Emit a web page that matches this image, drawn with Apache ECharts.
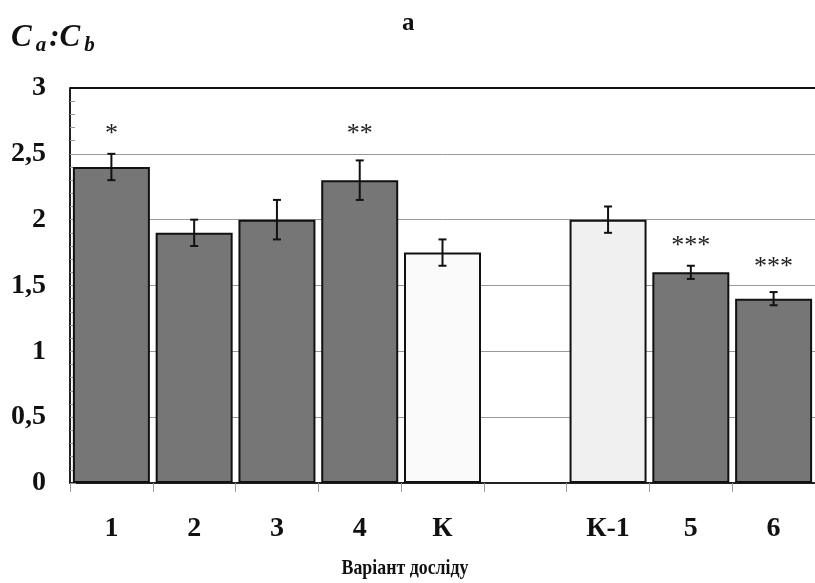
<!DOCTYPE html>
<html><head><meta charset="utf-8">
<script src="https://cdn.jsdelivr.net/npm/echarts@6/dist/echarts.min.js"></script>
<style>html,body{margin:0;padding:0;background:#fff}#c{width:815px;height:583px}</style>
</head><body><div id="c"></div>
<script>
const categories = ['1','2','3','4','К','','К-1','5','6'];
const values = [2.4, 1.9, 2.0, 2.3, 1.75, null, 2.0, 1.6, 1.4];
const errors = [0.1, 0.1, 0.15, 0.15, 0.1, null, 0.1, 0.05, 0.05];
const stars = ['*','','','**','','','','***','***'];
const starY = [2.65, null, null, 2.65, null, null, null, 1.80, 1.64];
const barKind = ['d','d','d','d','l','','l2','d','d'];
const yTicks = ['0','0,5','1','1,5','2','2,5','3'];

const FONT = 'Liberation Serif';
const colorOf = {d:'#767676', l:'#fafafa', l2:'#f0f0f0'};

const barData = values.map((v,i)=> v==null ? null : {value:v, itemStyle:{color:colorOf[barKind[i]]}});
const errData = values.map((v,i)=> v==null ? null : [i, v-errors[i], v+errors[i]]).filter(d=>d);
const starData = stars.map((s,i)=> s ? [i, starY[i], s] : null).filter(d=>d);

const chart = echarts.init(document.getElementById('c'));
chart.setOption({
  animation:false,
  backgroundColor:'#fff',
  title:{text:'а', left:397, top:6, textStyle:{fontFamily:FONT, fontWeight:'bold', fontSize:25, color:'#111'}},
  graphic:[{
    type:'text', left:11, top:22,
    style:{
      rich:{
        C:{fontFamily:FONT, fontStyle:'italic', fontWeight:'bold', fontSize:31, fill:'#111'},
        s:{fontFamily:FONT, fontStyle:'italic', fontWeight:'bold', fontSize:21, fill:'#111', verticalAlign:'bottom', padding:[16,3,0,4]}
      },
      text:'{C|C}{s|a}{C|:C}{s|b}'
    }
  },{
    type:'line', shape:{x1:70, y1:88, x2:815, y2:88}, style:{stroke:'#111', lineWidth:2}, z:10
  },{
    type:'text', x:405, y:569, scaleX:0.85,
    style:{text:'Варіант досліду', fontFamily:FONT, fontWeight:'bold', fontSize:21, fill:'#111', align:'center', verticalAlign:'middle'}
  }],
  grid:{left:70, top:88, width:750, height:395, containLabel:false},
  xAxis:{
    type:'category', data:categories, boundaryGap:true,
    axisLine:{lineStyle:{color:'#222', width:2}},
    axisTick:{show:true, length:9, lineStyle:{color:'#999'}},
    axisLabel:{fontFamily:FONT, fontWeight:'bold', fontSize:28, color:'#111', margin:32}
  },
  yAxis:{
    type:'value', min:0, max:3, interval:0.5,
    axisLine:{show:true, lineStyle:{color:'#222', width:2}},
    axisTick:{show:true, inside:true, length:6, lineStyle:{color:'#999'}},
    minorTick:{show:true, splitNumber:5, length:5, lineStyle:{color:'#999'}},
    splitLine:{show:true, lineStyle:{color:'#999', width:1}},
    axisLabel:{fontFamily:FONT, fontWeight:'bold', fontSize:28, color:'#111', margin:24,
      formatter:(v)=>yTicks[Math.round(v*2)]}
  },
  series:[{
    type:'bar', data:barData, barCategoryGap:'7%',
    itemStyle:{borderColor:'#111', borderWidth:2}
  },{
    type:'custom', data:errData, z:5,
    renderItem:(params, api)=>{
      const lo = api.coord([api.value(0), api.value(1)]);
      const hi = api.coord([api.value(0), api.value(2)]);
      const x = lo[0], w = 4;
      const st = {stroke:'#111', lineWidth:2};
      return {type:'group', children:[
        {type:'line', shape:{x1:x, y1:lo[1], x2:x, y2:hi[1]}, style:st},
        {type:'line', shape:{x1:x-w, y1:lo[1], x2:x+w, y2:lo[1]}, style:st},
        {type:'line', shape:{x1:x-w, y1:hi[1], x2:x+w, y2:hi[1]}, style:st}
      ]};
    }
  },{
    type:'custom', data:starData, z:5,
    renderItem:(params, api)=>{
      const p = api.coord([api.value(0), api.value(1)]);
      return {type:'text', x:p[0], y:p[1], style:{text:starData[params.dataIndex][2], fontFamily:FONT, fontSize:26, fill:'#222', align:'center', verticalAlign:'middle'}};
    }
  }]
});
</script></body></html>
